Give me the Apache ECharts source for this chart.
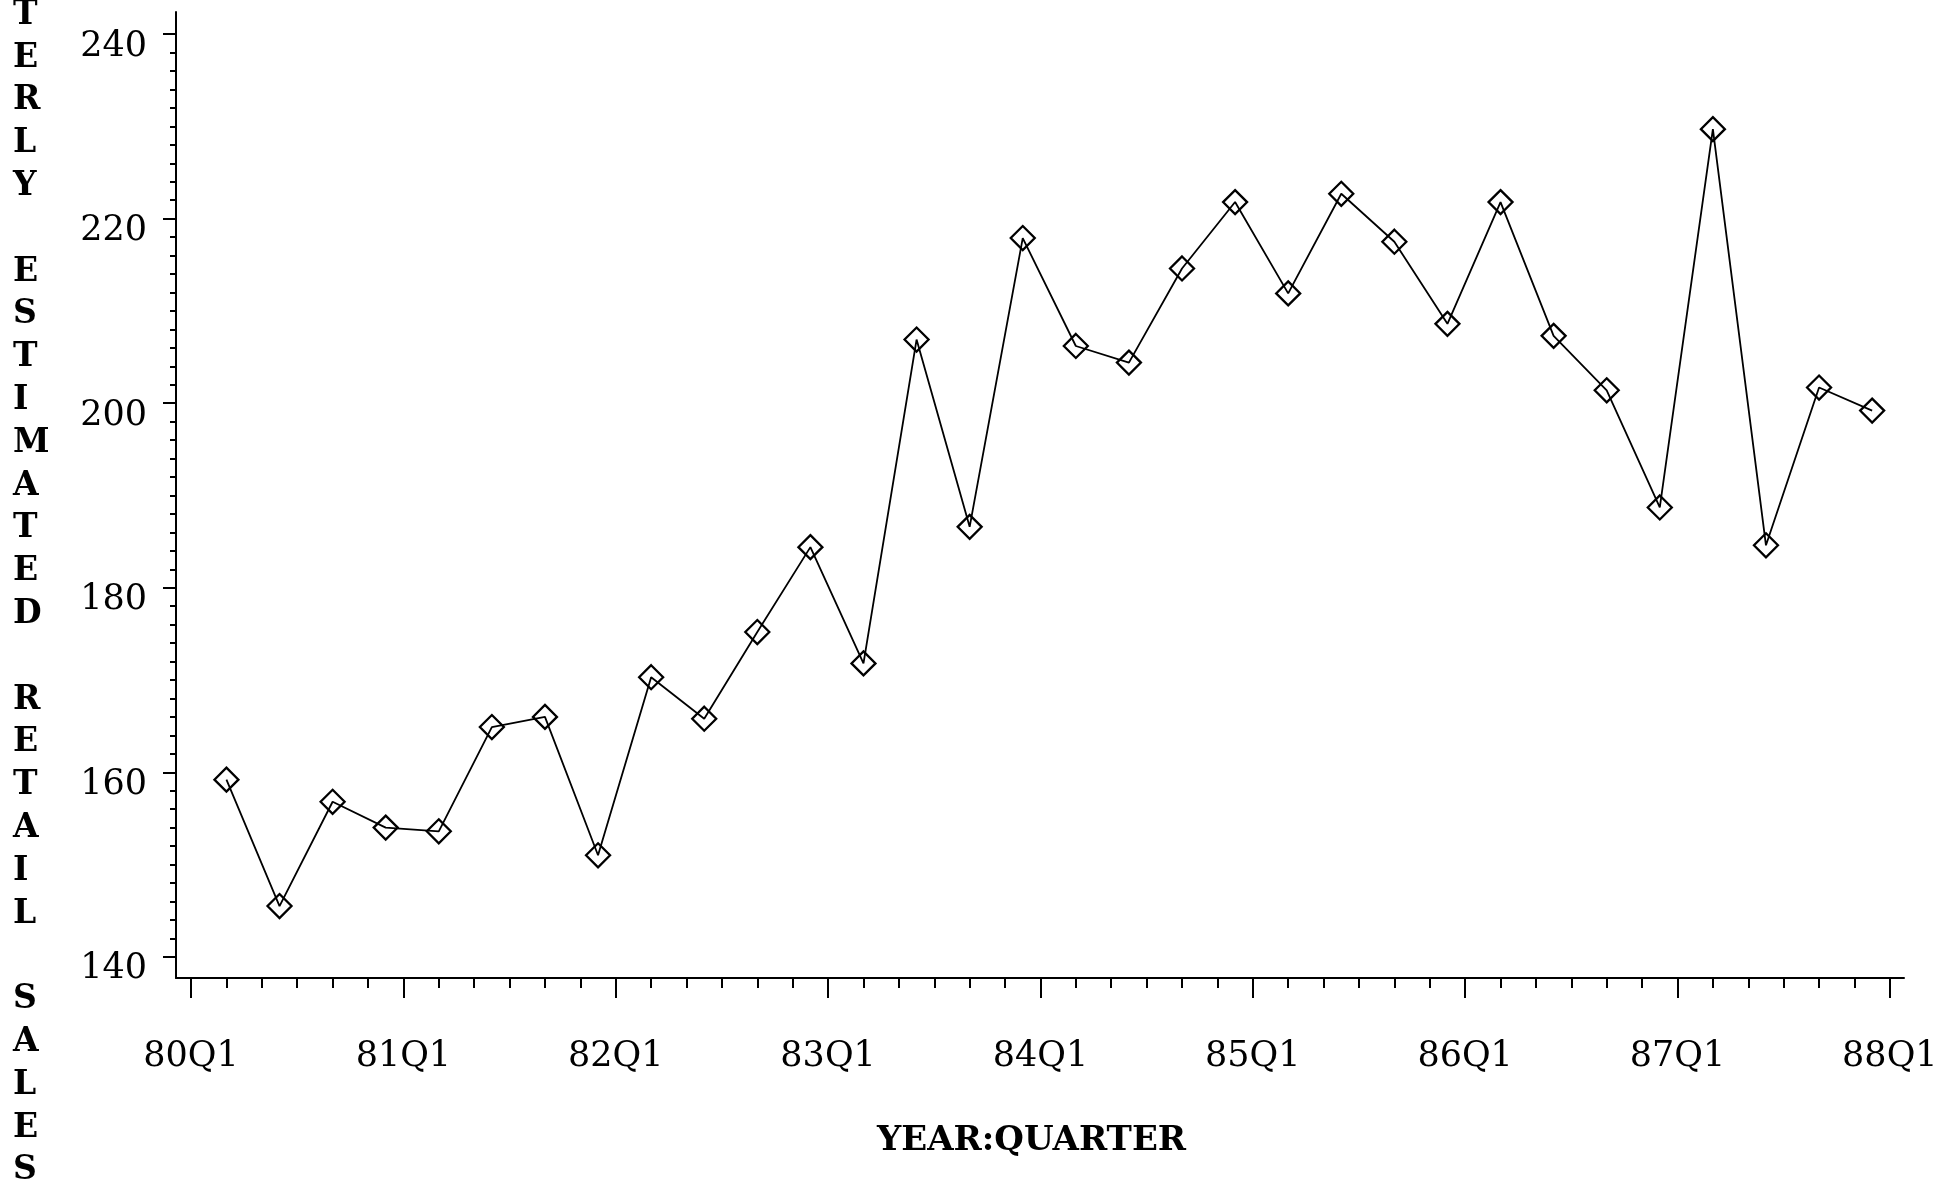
<!DOCTYPE html>
<html>
<head>
<meta charset="utf-8">
<title>Quarterly Estimated Retail Sales</title>
<script src="https://cdn.jsdelivr.net/npm/echarts@6/dist/echarts.min.js"></script>
<style>
  html, body { margin: 0; padding: 0; background: #fff; }
  #chart { width: 1942px; height: 1184px; }
</style>
</head>
<body>
<div id="chart"></div>
<script>
// Quarterly series, 1980 Q1 through 1987 Q4
const quarters = [
  '80Q1', '80Q2', '80Q3', '80Q4',
  '81Q1', '81Q2', '81Q3', '81Q4',
  '82Q1', '82Q2', '82Q3', '82Q4',
  '83Q1', '83Q2', '83Q3', '83Q4',
  '84Q1', '84Q2', '84Q3', '84Q4',
  '85Q1', '85Q2', '85Q3', '85Q4',
  '86Q1', '86Q2', '86Q3', '86Q4',
  '87Q1', '87Q2', '87Q3', '87Q4'
];
const sales = [
  159.2, 145.5, 156.8, 154.0,
  153.6, 164.9, 166.0, 151.0,
  170.3, 165.8, 175.2, 184.4,
  171.8, 206.9, 186.6, 217.9,
  206.2, 204.4, 214.6, 221.8,
  211.9, 222.7, 217.5, 208.6,
  221.8, 207.3, 201.4, 188.7,
  229.7, 184.6, 201.7, 199.2
];

// Axis labels
const yearLabels = ['80Q1', '81Q1', '82Q1', '83Q1', '84Q1', '85Q1', '86Q1', '87Q1', '88Q1'];
const yTickValues = [140, 160, 180, 200, 220, 240];
const yTitle = 'QUARTERLY ESTIMATED RETAIL SALES';
const xTitle = 'YEAR:QUARTER';

// The time axis runs in months counted from January 1980;
// each quarter is plotted at its second month mark.
function quarterToMonth(label) {
  const yr = parseInt(label.slice(0, 2), 10) - 80;
  const q = parseInt(label.slice(3), 10);
  return yr * 12 + (q - 1) * 3 + 2;
}
const points = quarters.map((q, i) => [quarterToMonth(q), sales[i]]);

const xMajor = yearLabels.map(quarterToMonth).map(m => m - 2);
const xMinor = [];
for (let m = 2; m < 96; m += 2) if (m % 12 !== 0) xMinor.push(m);
const yMinor = [];
for (let v = 142; v < 240; v += 2) if (v % 20 !== 0) yMinor.push(v);

const X_MIN = -0.85, X_MAX = 96.8;
const Y_MIN = 137.7, Y_MAX = 242.4;
const serif = 'DejaVu Serif';
const ink = '#000';

const chart = echarts.init(document.getElementById('chart'), null, { renderer: 'canvas' });

chart.setOption({
  backgroundColor: '#fff',
  animation: false,
  grid: { left: 176, right: 38, top: 12, bottom: 206, containLabel: false },
  xAxis: [
    {
      type: 'value', min: X_MIN, max: X_MAX, position: 'bottom',
      name: xTitle, nameLocation: 'middle', nameGap: 146,
      nameTextStyle: {
        fontFamily: serif, fontSize: 34, fontWeight: 'bold', color: ink,
        padding: [0, 17, 0, 0]
      },
      axisLine: { show: true, onZero: false, lineStyle: { color: ink, width: 2 } },
      axisTick: { show: true, length: 20, customValues: xMajor, lineStyle: { color: ink, width: 2 } },
      axisLabel: {
        show: true, customValues: xMajor, margin: 61,
        fontFamily: serif, fontSize: 35, color: ink,
        formatter: v => yearLabels[Math.round(v / 12)]
      },
      splitLine: { show: false }
    },
    {
      type: 'value', min: X_MIN, max: X_MAX, position: 'bottom',
      axisLine: { show: false, onZero: false },
      axisTick: { show: true, length: 10, customValues: xMinor, lineStyle: { color: ink, width: 2 } },
      axisLabel: { show: false },
      splitLine: { show: false }
    }
  ],
  yAxis: [
    {
      type: 'value', min: Y_MIN, max: Y_MAX, position: 'left',
      axisLine: { show: true, onZero: false, lineStyle: { color: ink, width: 2 } },
      axisTick: { show: true, length: 13, customValues: yTickValues, lineStyle: { color: ink, width: 2 } },
      axisLabel: {
        show: true, customValues: yTickValues, margin: 29,
        fontFamily: serif, fontSize: 35, color: ink,
        verticalAlign: 'top', lineHeight: 25
      },
      splitLine: { show: false }
    },
    {
      type: 'value', min: Y_MIN, max: Y_MAX, position: 'left',
      axisLine: { show: false, onZero: false },
      axisTick: { show: true, length: 6, customValues: yMinor, lineStyle: { color: ink, width: 2 } },
      axisLabel: { show: false },
      splitLine: { show: false }
    }
  ],
  graphic: [
    {
      type: 'text', left: 28 - 15, top: -177.4, silent: true,
      style: {
        text: yTitle.split('').join('\n'),
        fontFamily: serif, fontSize: 33, fontWeight: 'bold',
        fill: ink, lineHeight: 42.8, align: 'center', width: 30
      }
    }
  ],
  series: [
    {
      type: 'line',
      xAxisIndex: 0, yAxisIndex: 0,
      data: points,
      symbol: 'diamond',
      symbolSize: 24,
      showAllSymbol: true,
      lineStyle: { color: ink, width: 1.8 },
      itemStyle: { color: 'rgba(255,255,255,0)', borderColor: ink, borderWidth: 2.3 },
      emphasis: { disabled: true }
    }
  ]
});
</script>
</body>
</html>
